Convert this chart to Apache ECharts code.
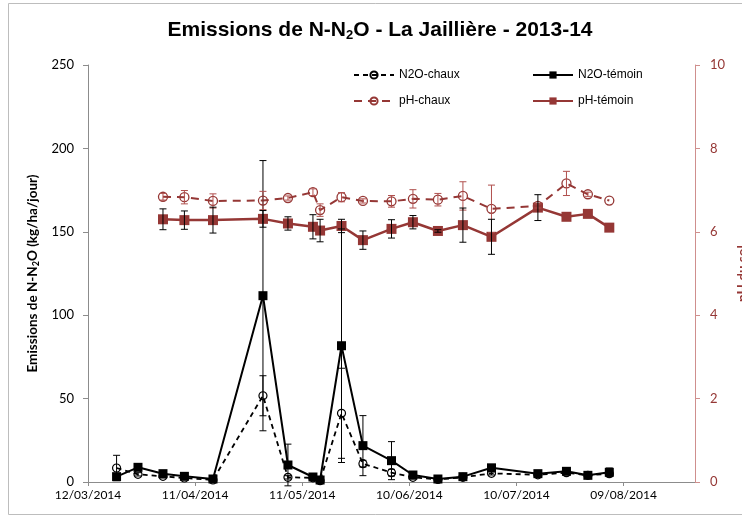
<!DOCTYPE html>
<html>
<head>
<meta charset="utf-8">
<script src="https://cdn.jsdelivr.net/npm/echarts@6/dist/echarts.min.js"></script>
<style>html,body{margin:0;padding:0;background:#fff;}#c{width:742px;height:520px;}</style>
</head>
<body>
<div id="c"></div>
<script>
// ---- data ----
const dates = ['2014-03-20','2014-03-26','2014-04-02','2014-04-08','2014-04-16','2014-04-30','2014-05-07','2014-05-14','2014-05-16','2014-05-22','2014-05-28','2014-06-05','2014-06-11','2014-06-18','2014-06-25','2014-07-03','2014-07-16','2014-07-24','2014-07-30','2014-08-05'];
const n2oChaux    = [8.4, 4.6, 3.4, 2.4, 1.2, 51.7, 2.8, 2.5, 0.8, 41.2, 11.0, 5.6, 2.8, 1.5, 2.8, 5.2, 4.3, 5.6, 4.0, 5.0];
const n2oChauxErr = [7.6, 1, 1, 0.5, 0.5, 12, 1, 1, 0.5, 27, 2, 2, 1, 0.5, 1, 1, 1, 1, 1, 1];
const n2oTemoin    = [3.2, 8.8, 5.0, 3.4, 1.8, 111.7, 10.2, 3.0, 1.2, 81.7, 21.8, 12.8, 4.2, 1.8, 3.2, 8.5, 5.0, 6.4, 4.0, 5.8];
const n2oTemoinErr = [1, 1.5, 1, 0.5, 0.5, 81, 12.5, 1, 0.5, 70, 18, 11.4, 1, 0.5, 1, 2, 1, 1.5, 1, 2.6];
const phChaux    = [null, null, 6.84, 6.83, 6.74, 6.75, 6.81, 6.95, 6.52, 6.83, 6.74, 6.73, 6.79, 6.77, 6.86, 6.55, 6.62, 7.16, 6.90, 6.75];
const phChauxErr = [null, null, 0.08, 0.16, 0.17, 0.22, 0.05, 0.08, 0.15, 0.11, 0.05, 0.14, 0.22, 0.15, 0.34, 0.57, 0.05, 0.29, 0.05, 0];
const phTemoin    = [null, null, 6.30, 6.28, 6.28, 6.31, 6.20, 6.12, 6.03, 6.14, 5.80, 6.07, 6.23, 6.02, 6.16, 5.88, 6.58, 6.36, 6.43, 6.10];
const phTemoinErr = [null, null, 0.25, 0.22, 0.31, 0.20, 0.16, 0.29, 0.27, 0.16, 0.22, 0.22, 0.16, 0.03, 0.41, 0.42, 0.31, 0, 0, 0];
const xTickLabels = ['12/03/2014','11/04/2014','11/05/2014','10/06/2014','10/07/2014','09/08/2014'];
const leftTicks = [0, 50, 100, 150, 200, 250];
const rightTicks = [0, 2, 4, 6, 8, 10];
const seriesNames = ['N2O-chaux', 'N2O-témoin', 'pH-chaux', 'pH-témoin'];

// ---- helpers ----
const startDate = Date.UTC(2014, 2, 12);
function dayOf(s) { const p = s.split('-').map(Number); return Math.round((Date.UTC(p[0], p[1]-1, p[2]) - startDate) / 86400000); }
const xs = dates.map(dayOf);
function pts(vals) { return vals.map((v, i) => [xs[i], v]).filter(p => p[1] != null); }
function errs(vals, e) { return vals.map((v, i) => (v == null || !e[i]) ? null : [xs[i], v - e[i], v + e[i]]).filter(Boolean); }

const RED = '#953735';
function errSeries(data, yIdx, color) {
  return {
    type: 'custom', yAxisIndex: yIdx, z: 4, silent: true,
    encode: { x: 0, y: [1, 2] },
    data: data,
    renderItem: function (params, api) {
      const x = api.value(0);
      const a = api.coord([x, api.value(1)]);
      const b = api.coord([x, api.value(2)]);
      const w = 3.5;
      const st = { stroke: color, lineWidth: 1 };
      return { type: 'group', children: [
        { type: 'line', shape: { x1: a[0], y1: a[1], x2: b[0], y2: b[1] }, style: st },
        { type: 'line', shape: { x1: a[0]-w, y1: a[1], x2: a[0]+w, y2: a[1] }, style: st },
        { type: 'line', shape: { x1: b[0]-w, y1: b[1], x2: b[0]+w, y2: b[1] }, style: st }
      ]};
    }
  };
}

const chart = echarts.init(document.getElementById('c'), null, { renderer: 'canvas' });
const legendBase = { itemWidth: 40, itemHeight: 9, itemGap: 0, padding: 0, textStyle: { fontFamily: 'Liberation Sans, Arial', fontSize: 12, color: '#000' }, selectedMode: false };
const subRich = { sub: { fontSize: 13, padding: [10, 0, 0, 0], fontWeight: 'bold', fontFamily: 'Liberation Sans, Arial' } };
chart.setOption({
  animation: false,
  backgroundColor: '#fff',
  graphic: [{ type: 'rect', shape: { x: 8.5, y: 3.5, width: 760, height: 511 }, style: { fill: 'none', stroke: '#bdbdbd', lineWidth: 1 }, silent: true }],
  title: {
    text: 'Emissions de N-N{sub|2}O - La Jaillière - 2013-14',
    left: 380, top: 19, padding: 0, textAlign: 'center',
    textStyle: { fontFamily: 'Liberation Sans, Arial', fontWeight: 'bold', fontSize: 21, color: '#000', rich: subRich }
  },
  legend: [
    Object.assign({ left: 353, top: 69, data: [seriesNames[0]] }, legendBase),
    Object.assign({ left: 532, top: 69, data: [seriesNames[1]] }, legendBase),
    Object.assign({ left: 353, top: 95, data: [seriesNames[2]] }, legendBase),
    Object.assign({ left: 532, top: 95, data: [seriesNames[3]] }, legendBase)
  ],
  grid: { left: 88, right: 47, top: 65, bottom: 38, containLabel: false, outerBoundsMode: 'none' },
  xAxis: {
    type: 'value', min: 0, max: 170, interval: 30,
    axisLine: { show: true, lineStyle: { color: '#8c8c8c' } },
    axisTick: { show: true, length: 4, lineStyle: { color: '#8c8c8c' } },
    splitLine: { show: false },
    axisLabel: { showMaxLabel: false, margin: 7, fontFamily: 'Lato', fontSize: 12, color: '#000',
      formatter: v => (v % 30 === 0 ? (xTickLabels[v / 30] || '') : '') }
  },
  yAxis: [
    {
      type: 'value', min: leftTicks[0], max: leftTicks[leftTicks.length-1], interval: leftTicks[1]-leftTicks[0],
      name: 'Emissions de N-N{sub|2}O (kg/ha/jour)', nameLocation: 'middle', nameGap: 46,
      nameTextStyle: { fontFamily: 'Lato', fontWeight: 'bold', fontSize: 13.5, color: '#000',
        rich: { sub: { fontSize: 9, padding: [7, 0, 0, 0], fontWeight: 'bold', fontFamily: 'Lato' } } },
      axisLine: { show: true, lineStyle: { color: '#8c8c8c' } },
      axisTick: { show: true, length: 5, lineStyle: { color: '#8c8c8c' } },
      splitLine: { show: false },
      axisLabel: { margin: 14, fontFamily: 'Lato', fontSize: 13, color: '#000' }
    },
    {
      type: 'value', position: 'right', min: rightTicks[0], max: rightTicks[rightTicks.length-1], interval: rightTicks[1]-rightTicks[0],
      name: 'pH du sol', nameLocation: 'middle', nameGap: 40, nameRotate: 90,
      nameTextStyle: { fontFamily: 'Lato', fontWeight: 'bold', fontSize: 13.5, color: RED },
      axisLine: { show: true, lineStyle: { color: '#cf8f8d' } },
      axisTick: { show: true, length: 5, lineStyle: { color: '#cf8f8d' } },
      splitLine: { show: false },
      axisLabel: { margin: 15, fontFamily: 'Lato', fontSize: 13, color: RED }
    }
  ],
  series: [
    { name: seriesNames[0], type: 'line', data: pts(n2oChaux), z: 3,
      symbol: 'circle', symbolSize: 8,
      lineStyle: { color: '#000', width: 1.8, type: [5, 4] },
      itemStyle: { color: 'rgba(255,255,255,0)', borderColor: '#000', borderWidth: 1.2 } },
    { name: seriesNames[1], type: 'line', data: pts(n2oTemoin), z: 3,
      symbol: 'rect', symbolSize: 9,
      lineStyle: { color: '#000', width: 2 },
      itemStyle: { color: '#000' } },
    { name: seriesNames[2], type: 'line', yAxisIndex: 1, data: pts(phChaux), z: 3,
      symbol: 'circle', symbolSize: 9,
      lineStyle: { color: RED, width: 2, type: [8, 6] },
      itemStyle: { color: 'rgba(255,255,255,0)', borderColor: RED, borderWidth: 1.3 } },
    { name: seriesNames[3], type: 'line', yAxisIndex: 1, data: pts(phTemoin), z: 3,
      symbol: 'rect', symbolSize: 10,
      lineStyle: { color: RED, width: 2.5 },
      itemStyle: { color: RED } },
    errSeries(errs(n2oChaux, n2oChauxErr), 0, '#000'),
    errSeries(errs(n2oTemoin, n2oTemoinErr), 0, '#000'),
    errSeries(errs(phChaux, phChauxErr), 1, '#b0504e'),
    errSeries(errs(phTemoin, phTemoinErr), 1, '#000')
  ]
});
</script>
</body>
</html>
